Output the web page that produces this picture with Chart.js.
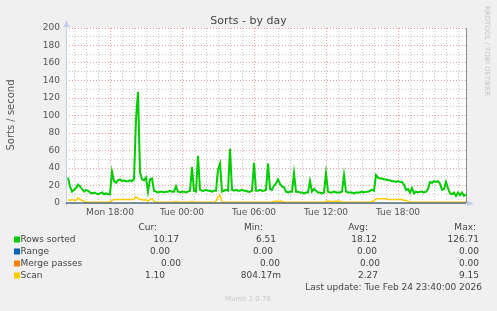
<!DOCTYPE html>
<html>
<head>
<meta charset="utf-8">
<script src="https://cdn.jsdelivr.net/npm/chart.js@4"></script>
<style>
  html, body { margin: 0; padding: 0; background: #f0f0f0; }
  canvas { display: block; }
</style>
</head>
<body>
<canvas id="chart" width="497" height="311"></canvas>
<script>
// ---- data (one value every 10 minutes, from Mon 14:30) ----
const firstSample = 14.5          // hours since Mon 00:00
const sampleStep = 1 / 6          // 10 minutes

const rowsSorted = [
  29, 19, 13, 15, 17, 21, 19, 16, 13, 15,
  14, 12, 11, 12, 11, 10, 11, 12, 10, 11,
  10, 10, 36, 25, 23, 26, 27, 25, 26, 25,
  25, 26, 25, 27, 96, 127, 35, 27, 26, 29,
  13, 27, 28, 14, 13, 12, 13, 13, 12, 13,
  13, 14, 13, 13, 19, 13, 12, 13, 13, 12,
  13, 14, 41, 14, 13, 54, 15, 14, 14, 15,
  14, 14, 13, 14, 14, 38, 45, 13, 14, 15,
  14, 62, 15, 14, 15, 14, 14, 15, 14, 14,
  13, 13, 14, 46, 14, 14, 15, 14, 14, 15,
  45, 16, 15, 20, 22, 27, 22, 19, 18, 13,
  12, 13, 13, 34, 13, 13, 12, 12, 11, 12,
  12, 25, 13, 16, 14, 12, 12, 11, 12, 34,
  13, 12, 12, 13, 12, 12, 12, 13, 32, 13,
  12, 12, 12, 11, 12, 12, 12, 13, 12, 13,
  13, 14, 15, 14, 32, 29, 28, 28, 27, 27,
  26, 26, 25, 25, 24, 25, 24, 24, 21, 15,
  16, 12, 17, 11, 13, 12, 13, 13, 12, 13,
  16, 24, 23, 25, 24, 25, 22, 15, 16, 24,
  17, 11, 10, 12, 8, 12, 9, 12, 8, 10
]

const scan = [
  4, 3, 4, 3, 3, 6, 4, 3, 2,
  1, 1, 1, 1, 1, 1, 1, 1, 1, 1, 1, 1, 1,
  3, 4, 4, 4, 4, 4, 4, 4, 4, 4, 4, 4,
  7, 5, 4, 4, 3, 4, 2, 4, 5, 2,
  1, 1, 1, 1, 1, 1, 1, 1, 1, 1, 2, 1, 1, 1, 1, 1, 1, 1, 2, 1, 1, 1, 1, 1, 1, 1, 1, 1, 1, 1, 2,
  7, 9,
  1, 1, 1, 1, 1, 1, 1, 1, 1, 1, 1, 1, 1, 1, 1, 1, 1, 1, 1, 1, 1, 1, 1, 1, 1, 1,
  2, 2, 2, 2, 2,
  1, 1, 1, 1, 1, 1, 1, 1, 1, 1, 1, 1, 1, 1, 1, 1, 1, 1, 1, 1, 1,
  2, 2, 2, 1, 2, 2, 2, 2, 1,
  1, 1, 1, 1, 1, 1, 1, 1, 1, 1, 1, 1, 1, 1, 2, 2,
  5, 5, 5, 5, 5, 5, 4, 4, 4, 4, 4, 4, 4, 4,
  3, 3, 2,
  1, 1, 1, 1, 1, 1, 1, 1, 1, 1, 1, 1, 1, 1, 1, 1, 1, 1, 1, 1, 1, 1, 1, 1, 1, 1, 1, 1, 1
]

// range and merge passes are flat at zero over the whole window
const flatTimes = [14 + 20 / 60, 47 + 40 / 60]
const range = [0, 0]
const mergePasses = [0, 0]

const tickHours = [18, 24, 30, 36, 42]
const tickLabels = ['Mon 18:00', 'Tue 00:00', 'Tue 06:00', 'Tue 12:00', 'Tue 18:00']

const legendNames = ['Rows sorted', 'Range', 'Merge passes', 'Scan']
const curValues = ['10.17', '0.00', '0.00', '1.10']
const minValues = ['6.51', '0.00', '0.00', '804.17m']
const avgValues = ['18.12', '0.00', '0.00', '2.27']
const maxValues = ['126.71', '0.00', '0.00', '9.15']


window.onload = function() {

    const colors = ['#00cc00', '#0066b3', '#ff8000', '#ffcc00']
    const font = 'DejaVu Sans'

    const times = rowsSorted.map((v, i) => firstSample + i * sampleStep)
    const points = (xs, ys) => ys.map((y, i) => ({ x: xs[i], y: y }))

    // background, axes, texts and legend drawn munin-style
    const muninDecor = {
        id: 'muninDecor',
        beforeDraw(chart) {
            const { ctx, chartArea: a } = chart
            ctx.save()
            ctx.fillStyle = '#f0f0f0'
            ctx.fillRect(0, 0, chart.width, chart.height)
            ctx.fillStyle = '#ffffff'
            ctx.fillRect(a.left, a.top, a.right - a.left, a.bottom - a.top)
            ctx.restore()
        },
        beforeDatasetsDraw(chart) {
            const { ctx, chartArea: a } = chart
            ctx.save()
            // right frame
            ctx.strokeStyle = '#8c8c8c'
            ctx.lineWidth = 1
            ctx.beginPath()
            ctx.moveTo(a.right + 0.5, a.top)
            ctx.lineTo(a.right + 0.5, a.bottom)
            ctx.stroke()
            // axes + arrows
            ctx.strokeStyle = '#c4ccf2'
            ctx.fillStyle = '#c4ccf2'
            ctx.beginPath()
            ctx.moveTo(a.left + 0.5, a.bottom + 3)
            ctx.lineTo(a.left + 0.5, a.top - 6)
            ctx.moveTo(a.left - 3, a.bottom + 0.5)
            ctx.lineTo(a.right + 4, a.bottom + 0.5)
            ctx.stroke()
            ctx.beginPath()
            ctx.moveTo(a.left - 2.5, a.top - 1)
            ctx.lineTo(a.left + 3.5, a.top - 1)
            ctx.lineTo(a.left + 0.5, a.top - 8)
            ctx.closePath()
            ctx.fill()
            ctx.beginPath()
            ctx.moveTo(a.right + 1, a.bottom - 2.5)
            ctx.lineTo(a.right + 1, a.bottom + 3.5)
            ctx.lineTo(a.right + 8, a.bottom + 0.5)
            ctx.closePath()
            ctx.fill()
            ctx.restore()
        },
        afterDraw(chart) {
            const ctx = chart.ctx
            ctx.save()
            ctx.textBaseline = 'middle'

            // title
            ctx.fillStyle = '#444'
            ctx.font = '11px "' + font + '"'
            ctx.textAlign = 'center'
            ctx.fillText('Sorts - by day', 248.5, 21.5)

            // vertical axis title
            ctx.save()
            ctx.translate(11, 115)
            ctx.rotate(-Math.PI / 2)
            ctx.font = '10px "' + font + '"'
            ctx.fillStyle = '#555'
            ctx.fillText('Sorts / second', 0, 0)
            ctx.restore()

            // rrdtool watermark
            ctx.save()
            ctx.translate(487, 51)
            ctx.rotate(Math.PI / 2)
            ctx.font = '7px "' + font + '"'
            ctx.fillStyle = '#c4c4c4'
            ctx.fillText('RRDTOOL / TOBI OETIKER', 0, 0)
            ctx.restore()

            // legend
            ctx.font = '9px "' + font + '"'
            ctx.fillStyle = '#444'
            ctx.textAlign = 'right'
            ctx.fillText('Cur:', 157, 227.5)
            ctx.fillText('Min:', 263, 227.5)
            ctx.fillText('Avg:', 368, 227.5)
            ctx.fillText('Max:', 476, 227.5)

            const rowY = [239.5, 251.5, 263.5, 275.5]
            const curX = [179, 170, 181, 165]
            const minX = [276, 273, 280, 281]
            const avgX = [377, 377, 380, 378]
            const maxX = [479, 479, 479, 479]
            legendNames.forEach((name, i) => {
                const y = rowY[i]
                ctx.fillStyle = colors[i]
                ctx.fillRect(14, y - 3, 6, 6)
                ctx.fillStyle = '#444'
                ctx.textAlign = 'left'
                ctx.fillText(name, 20.5, y)
                ctx.textAlign = 'right'
                ctx.fillText(curValues[i], curX[i], y)
                ctx.fillText(minValues[i], minX[i], y)
                ctx.fillText(avgValues[i], avgX[i], y)
                ctx.fillText(maxValues[i], maxX[i], y)
            })
            ctx.fillText('Last update: Tue Feb 24 23:40:00 2026', 482, 287.5)

            ctx.textAlign = 'center'
            ctx.font = '7px "' + font + '"'
            ctx.fillStyle = '#c8c8c8'
            ctx.fillText('Munin 2.0.76', 248, 299)
            ctx.restore()
        }
    }

    const majorGrid = 'rgba(225, 120, 120, 0.75)'
    const minorGrid = 'rgba(180, 180, 180, 0.8)'

    new Chart(document.getElementById('chart'), {
        type: 'line',
        data: {
            datasets: [
                { label: 'Rows sorted', data: points(times, rowsSorted), borderColor: colors[0], borderWidth: 2 },
                { label: 'Range', data: points(flatTimes, range), borderColor: colors[1], borderWidth: 1 },
                { label: 'Merge passes', data: points(flatTimes, mergePasses), borderColor: colors[2], borderWidth: 1 },
                { label: 'Scan', data: points(times, scan), borderColor: colors[3], borderWidth: 1.5 }
            ]
        },
        options: {
            responsive: false,
            animation: false,
            events: [],
            elements: {
                point: { radius: 0 },
                line: { tension: 0, fill: false }
            },
            datasets: { line: { clip: 3 } },
            layout: { padding: { left: 0, right: 31, top: 28, bottom: 88 } },
            plugins: { legend: { display: false }, tooltip: { enabled: false } },
            scales: {
                x: {
                    type: 'linear',
                    min: flatTimes[0],
                    max: flatTimes[1],
                    afterFit: s => { s.height = 20 },
                    border: { display: false, dash: [1, 2] },
                    grid: {
                        drawTicks: false,
                        lineWidth: 1,
                        color: c => (c.tick && c.tick.value % 6 === 0) ? majorGrid : minorGrid
                    },
                    ticks: {
                        stepSize: 1,
                        includeBounds: false,
                        autoSkip: false,
                        maxRotation: 0,
                        padding: 4,
                        color: '#555',
                        font: { family: font, size: 9 },
                        callback: v => {
                            const k = tickHours.indexOf(v)
                            return k >= 0 ? tickLabels[k] : ''
                        }
                    }
                },
                y: {
                    min: 0,
                    max: 200,
                    afterFit: s => { s.width = 66 },
                    border: { display: false, dash: [1, 2] },
                    grid: {
                        drawTicks: false,
                        lineWidth: 1,
                        color: c => (c.tick && c.tick.value % 20 === 0) ? majorGrid : minorGrid
                    },
                    ticks: {
                        stepSize: 10,
                        autoSkip: false,
                        padding: 6,
                        color: '#555',
                        font: { family: font, size: 9 },
                        callback: v => v % 20 === 0 ? String(v) : ''
                    }
                }
            }
        },
        plugins: [muninDecor]
    })
}
</script>
</body>
</html>
